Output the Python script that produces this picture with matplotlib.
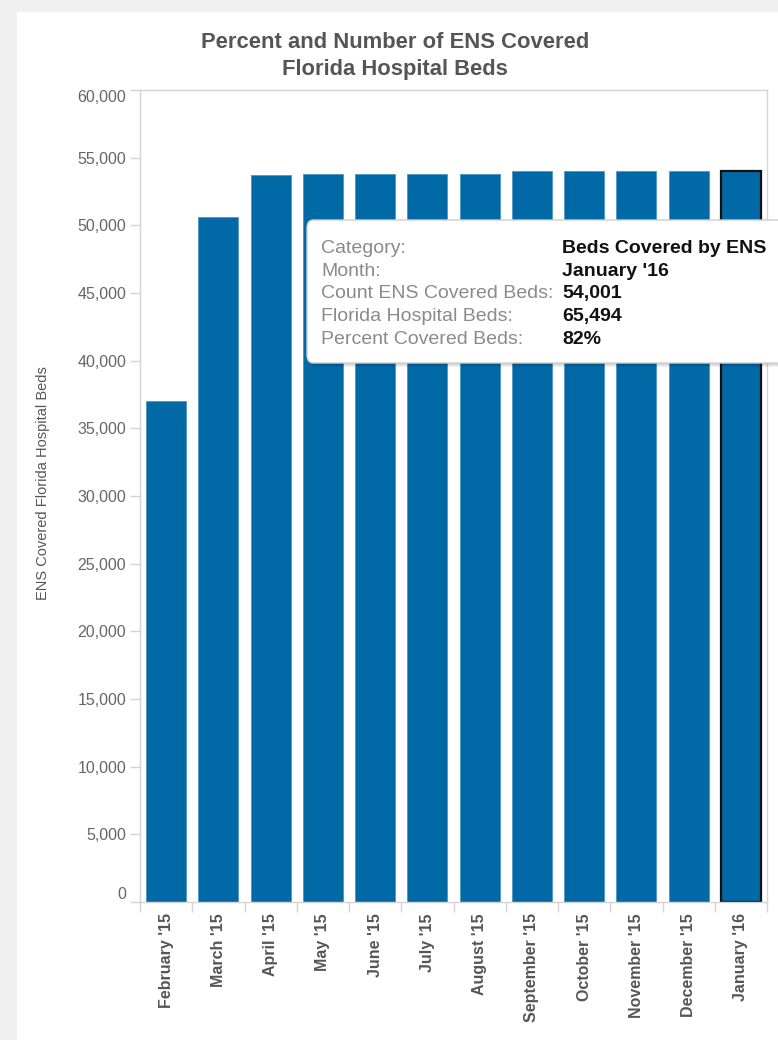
import matplotlib
matplotlib.use("Agg")
import matplotlib.pyplot as plt
from matplotlib.patches import Rectangle, FancyBboxPatch
from matplotlib.ticker import FuncFormatter, FixedLocator
import numpy as np

months = ["February '15", "March '15", "April '15", "May '15", "June '15",
          "July '15", "August '15", "September '15", "October '15",
          "November '15", "December '15", "January '16"]
covered_beds = [37000, 50650, 53700, 53830, 53830, 53830, 53830,
                54000, 54000, 54000, 54000, 54001]
florida_beds = 65494
selected = "January '16"

W, H = 778, 1040
plt.rcParams['font.family'] = ['Liberation Sans', 'DejaVu Sans']

fig = plt.figure(figsize=(W / 100, H / 100), dpi=100)
fig.patch.set_facecolor('#f0f0f0')


def fx(px):
    return px / W


def fy(py):
    return 1 - py / H


# white dashboard panel
fig.patches.append(Rectangle((fx(17), 0), 1 - fx(17), fy(12), transform=fig.transFigure,
                             facecolor='white', edgecolor='none', zorder=-1))

ax_l, ax_r, ax_t, ax_b = 140, 767, 90, 902
ax = fig.add_axes([fx(ax_l), fy(ax_b), fx(ax_r - ax_l), (ax_b - ax_t) / H])
ax.set_zorder(1)
ax.set_facecolor('white')

x = np.arange(len(months))
bars = ax.bar(x, covered_beds, width=0.77, color='#0169a6', edgecolor='#4d96c8',
              linewidth=0.6, zorder=2)
sel = months.index(selected)
bars[sel].set_edgecolor('#111111')
bars[sel].set_linewidth(1.6)

ax.set_xlim(-0.5, len(months) - 0.5)
ax.set_ylim(0, 60000)

grey = '#d4d4d4'
for s in ax.spines.values():
    s.set_color(grey)
    s.set_linewidth(1.0)

ax.yaxis.set_major_locator(FixedLocator(np.arange(0, 60001, 5000)))
ax.yaxis.set_major_formatter(FuncFormatter(lambda v, p: f"{int(v):,}"))
ax.tick_params(axis='y', length=7, width=1, color=grey, labelcolor='#666666',
               labelsize=11.5, pad=3)
# keep the end labels inside the plot height
yticks = ax.yaxis.get_major_ticks()
yticks[0].label1.set_verticalalignment('bottom')
yticks[-1].label1.set_verticalalignment('top')

ax.set_xticks(x)
ax.set_xticklabels(months, rotation=90, fontweight='bold', fontsize=11.5, color='#555555')
ax.tick_params(axis='x', length=0, pad=8)
ax.set_xticks(np.arange(-0.5, len(months), 1.0), minor=True)
ax.tick_params(axis='x', which='minor', length=7, width=1, color=grey)

ax.set_ylabel("ENS Covered Florida Hospital Beds", fontsize=10.5, color='#555555')
ax.yaxis.set_label_coords((50 - ax_l) / (ax_r - ax_l), (ax_b - 483) / (ax_b - ax_t))

# title
fig.text(fx(395), fy(43), "Percent and Number of ENS Covered", ha='center', va='center',
         fontsize=15.8, fontweight='bold', color='#555555')
fig.text(fx(395), fy(69), "Florida Hospital Beds", ha='center', va='center',
         fontsize=15.8, fontweight='bold', color='#555555')

# hover tooltip for the selected month
tx0, ty0, tx1, ty1 = 307, 220, 800, 363
for i, a in enumerate([0.05, 0.05, 0.06]):
    off = 2 + i
    fig.patches.append(FancyBboxPatch((fx(tx0 + off), fy(ty1 + off)), fx(tx1 - tx0),
                                      (ty1 - ty0) / H,
                                      boxstyle="round,pad=0,rounding_size=0.008",
                                      transform=fig.transFigure, facecolor='black',
                                      edgecolor='none', alpha=a, zorder=5))
fig.patches.append(FancyBboxPatch((fx(tx0), fy(ty1)), fx(tx1 - tx0), (ty1 - ty0) / H,
                                  boxstyle="round,pad=0,rounding_size=0.008",
                                  transform=fig.transFigure, facecolor='white',
                                  edgecolor='#cfcfcf', linewidth=1.0, zorder=6))

pct = covered_beds[sel] / florida_beds * 100
rows = [("Category:", "Beds Covered by ENS"),
        ("Month:", selected),
        ("Count ENS Covered Beds:", f"{covered_beds[sel]:,}"),
        ("Florida Hospital Beds:", f"{florida_beds:,}"),
        ("Percent Covered Beds:", f"{pct:.0f}%")]
ys = [246.5, 269, 291.5, 314.5, 337]
for (lab, val), yy in zip(rows, ys):
    fig.text(fx(321), fy(yy), lab, ha='left', va='center_baseline', fontsize=14,
             color='#8a8a8a', zorder=7)
    fig.text(fx(562), fy(yy), val, ha='left', va='center_baseline', fontsize=14,
             fontweight='bold', color='#111111', zorder=7)

fig.savefig("out.png", dpi=100, facecolor=fig.get_facecolor())
